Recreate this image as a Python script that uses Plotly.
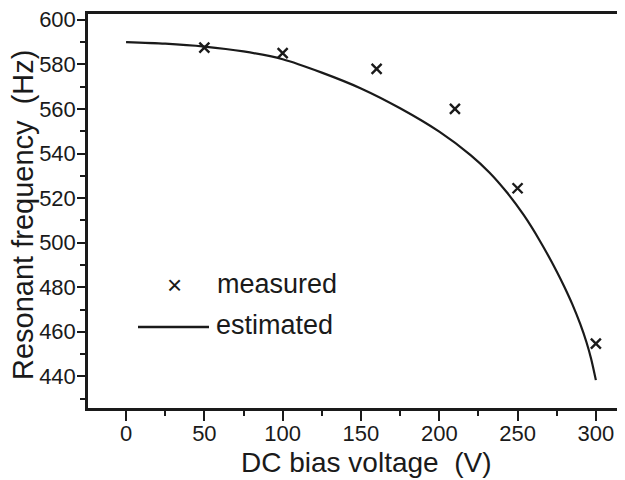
import plotly.graph_objects as go

# Measured data
meas_v = [50, 100, 160, 210, 250, 300]
meas_f = [587.5, 585, 578, 560, 524.4, 454.7]

# Estimated curve
est_v = [0, 25, 50, 75, 100, 125, 150, 175, 200, 220, 232, 243, 254, 264, 275, 280, 285, 290, 294, 297, 300]
est_f = [590, 589.3, 588, 585.8, 582.3, 576.3, 569.2, 560.3, 549.8, 539.3, 531.5, 522.7, 512.3, 501.1, 487.1, 480, 472.3, 463.5, 455.3, 447.8, 438.3]

x_ticks = [0, 50, 100, 150, 200, 250, 300]
y_ticks = [440, 460, 480, 500, 520, 540, 560, 580, 600]

legend_labels = ["measured", "estimated"]
x_title = "DC bias voltage  (V)"
y_title = "Resonant frequency  (Hz)"

# page is 625x480 but the page body adds an 8px margin; size the figure to fit
OFF = 8
W, H = 625 - OFF, 480 - OFF
PL, PR, PT, PB = 88, 625, 14, 408          # plot area in page pixels
ML, MR, MT, MB = PL - OFF, 0, PT - OFF, H - (PB - OFF)
PW, PH = PR - PL, PB - PT
INK = "#1a1a1a"
FONT = "Liberation Sans, Arial, sans-serif"

def px(x):
    return (x - PL) / PW

def py(y):
    return (PB - y) / PH

fig = go.Figure()
fig.add_trace(go.Scatter(
    x=est_v, y=est_f, mode="lines",
    line=dict(color=INK, width=2.2, shape="spline", smoothing=0.8),
    showlegend=False, name=legend_labels[1]))
fig.add_trace(go.Scatter(
    x=meas_v, y=meas_f, mode="markers",
    marker=dict(symbol="x-thin", size=10, line=dict(color=INK, width=2.4)),
    showlegend=False, name=legend_labels[0]))

axis_common = dict(
    showline=True, linecolor=INK, linewidth=2.5,
    ticks="outside", tickcolor=INK, tickwidth=2,
    showgrid=False, zeroline=False, automargin=False,
    ticklabeloverflow="allow",
    tickfont=dict(family=FONT, size=22, color=INK),
)

fig.update_xaxes(
    range=[-24.3, 318.6], tickmode="array", tickvals=x_ticks,
    ticklen=10, mirror=True, ticklabelstandoff=-6,
    minor=dict(dtick=25, tick0=0, ticks="outside", ticklen=5, tickcolor=INK, tickwidth=2),
    **axis_common)
fig.update_yaxes(
    range=[425.8, 602.6], tickmode="array", tickvals=y_ticks,
    ticklen=8, ticklabelstandoff=-3,
    minor=dict(dtick=10, tick0=0, ticks="outside", ticklen=5, tickcolor=INK, tickwidth=2),
    **axis_common)

annotations = [
    dict(text=x_title, x=px(366), y=py(462), xref="paper", yref="paper",
         xanchor="center", yanchor="middle", showarrow=False,
         font=dict(family=FONT, size=28, color=INK)),
    dict(text=y_title, x=px(23), y=py(215), xref="paper", yref="paper",
         xanchor="center", yanchor="middle", showarrow=False, textangle=-90,
         font=dict(family=FONT, size=29, color=INK)),
    dict(text="×", x=px(174), y=py(285), xref="paper", yref="paper",
         xanchor="center", yanchor="middle", showarrow=False,
         font=dict(family=FONT, size=26, color=INK)),
    dict(text=legend_labels[0], x=px(215), y=py(284), xref="paper", yref="paper",
         xanchor="left", yanchor="middle", showarrow=False,
         font=dict(family=FONT, size=27, color=INK)),
    dict(text=legend_labels[1], x=px(214), y=py(325), xref="paper", yref="paper",
         xanchor="left", yanchor="middle", showarrow=False,
         font=dict(family=FONT, size=27, color=INK)),
]

shapes = [
    dict(type="line", xref="paper", yref="paper",
         x0=px(138), x1=px(209), y0=py(327), y1=py(327),
         line=dict(color=INK, width=2.5)),
]

fig.update_layout(
    width=W, height=H,
    margin=dict(l=ML, r=MR, t=MT, b=MB, pad=0),
    paper_bgcolor="white", plot_bgcolor="white",
    annotations=annotations, shapes=shapes,
    showlegend=False,
    font=dict(family=FONT, color=INK),
)

fig.write_html("out.html")
